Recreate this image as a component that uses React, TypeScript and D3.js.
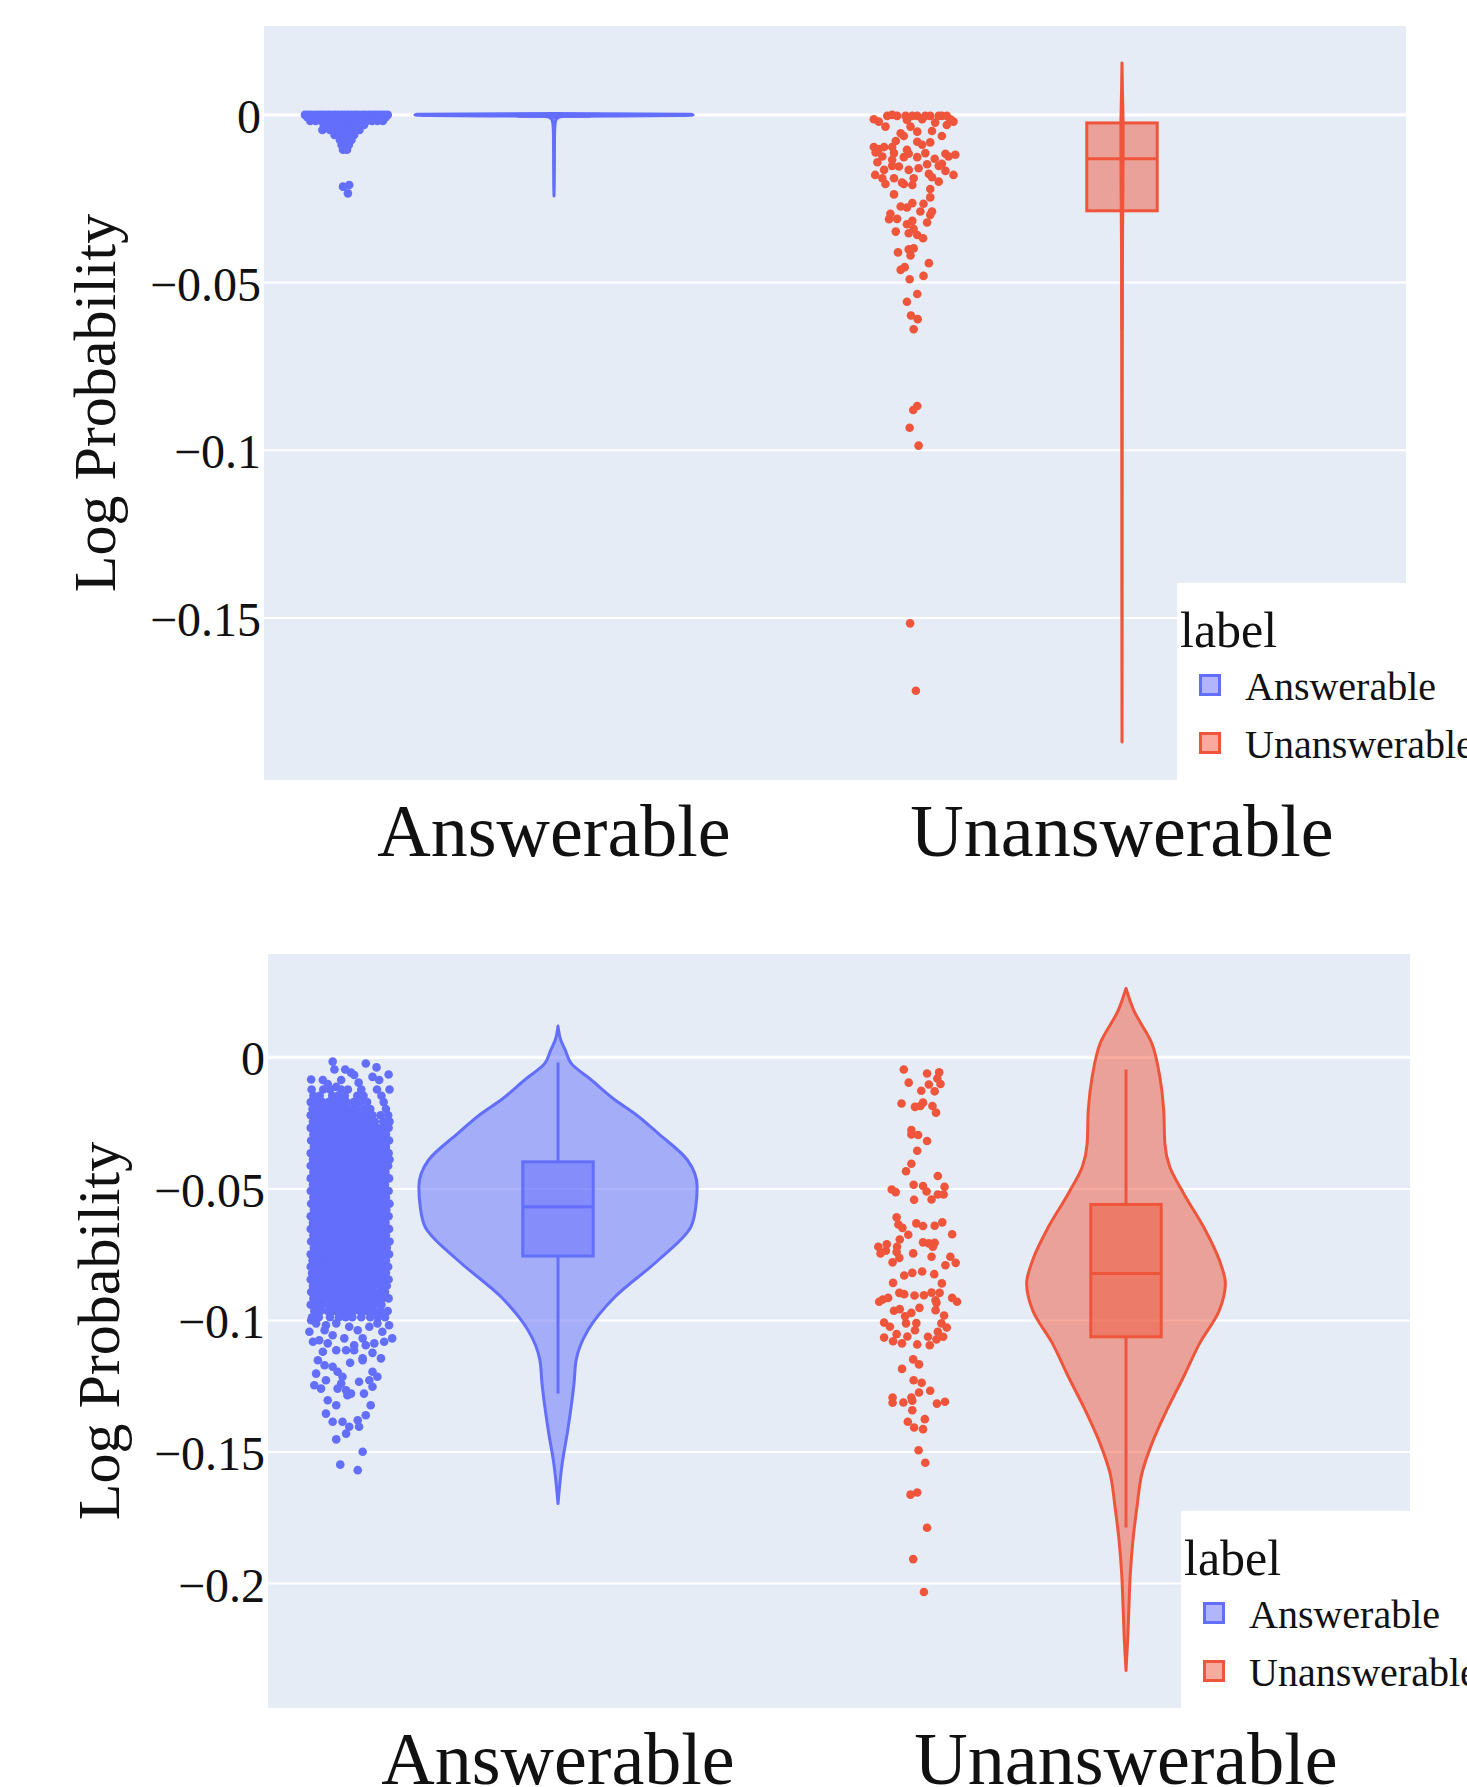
import * as React from "react";
import * as d3 from "d3";

// ---- shared ----
const categories = ["Answerable", "Unanswerable"];
const colors = ["#636efa", "#EF553B"];
const fills = ["rgba(99,110,250,0.5)", "rgba(239,85,59,0.5)"];

// ---- top panel ----
const topDomain = [-0.1983, 0.0265];
const topTicks = [0, -0.05, -0.1, -0.15];
const topTickLabels = ["0", "−0.05", "−0.1", "−0.15"];

// violin outlines: [value, relative half width]
const topAnsViolin = [
  [0.0004, 0], [0.0002, 0.98], [0, 1], [-0.0002, 0.9], [-0.0004, 0.08], [-0.0008, 0.03],
  [-0.0015, 0.014], [-0.003, 0.007], [-0.006, 0.004], [-0.012, 0.003], [-0.02, 0.002], [-0.0242, 0],
];
const topUnsViolin = [
  [0.0155, 0], [0.008, 0.003], [0.002, 0.006], [-0.003, 0.008], [-0.012, 0.008], [-0.025, 0.006],
  [-0.045, 0.003], [-0.08, 0.002], [-0.15, 0.001], [-0.187, 0],
];

// box stats: [low whisker, q1, median, q3, high whisker]
const topAnsBox = [-0.0012, -0.0004, 0, 0, 0];
const topUnsBox = [-0.0639, -0.0286, -0.0131, -0.0024, 0];

// jittered points, rows of [value, jitter positions]
const topAnsRows = [
  [0, [-0.92, -0.85, -0.78, -0.7, -0.62, -0.55, -0.48, -0.4, -0.33, -0.25, -0.18, -0.1, -0.03, 0.04, 0.12, 0.2, 0.27, 0.35, 0.42, 0.5, 0.57, 0.65, 0.72, 0.8, 0.87, 0.93]],
  [-0.0008, [-0.86, -0.74, -0.6, -0.47, -0.35, -0.22, -0.1, 0.02, 0.15, 0.28, 0.4, 0.52, 0.64, 0.76, 0.88]],
  [-0.0018, [-0.8, -0.68, -0.55, -0.42, -0.3, -0.18, -0.05, 0.08, 0.2, 0.33, 0.46, 0.58, 0.7, 0.82]],
  [-0.003, [-0.5, -0.4, -0.28, -0.16, -0.04, 0.08, 0.2, 0.32, 0.4]],
  [-0.0045, [-0.53, -0.36, -0.24, -0.12, 0, 0.12, 0.24, 0.3]],
  [-0.006, [-0.26, -0.14, -0.02, 0.1, 0.18]],
  [-0.0075, [-0.14, -0.04, 0.06, 0.12]],
  [-0.009, [-0.1, 0, 0.06]],
  [-0.0104, [-0.07, 0.02]],
  [-0.0209, [0.07]],
  [-0.0214, [-0.07]],
  [-0.0234, [0.04]],
];

// [jitter, value]
const topUnsPoints = [
  [-0.9, -0.0013], [-0.79, -0.002], [-0.64, -0.0035], [-0.6, -0.0003], [-0.49, 0], [-0.38, -0.0003],
  [-0.19, -0.0003], [-0.16, -0.0015], [-0.08, -0.0035], [-0.04, -0.0003], [0.07, -0.0003], [0.18, -0.0013],
  [0.25, -0.0003], [0.36, -0.0003], [0.47, -0.0023], [0.55, -0.0003], [0.62, -0.0003], [0.73, -0.0003],
  [0.73, -0.003], [0.81, -0.0013], [0.88, -0.002], [-0.3, -0.0055], [-0.23, -0.0063], [0.07, -0.005],
  [0.4, -0.0048], [0.62, -0.0063], [-0.41, -0.0078], [0.07, -0.008], [0.18, -0.0089], [0.36, -0.0082],
  [-0.9, -0.0096], [-0.79, -0.0102], [-0.67, -0.0096], [-0.49, -0.0096], [-0.16, -0.0104], [-0.12, -0.0116],
  [0.25, -0.0114], [0.7, -0.0116], [0.92, -0.0119], [0.77, -0.0124], [-0.86, -0.0112], [-0.71, -0.0124],
  [-0.45, -0.0114], [-0.23, -0.0126], [0.07, -0.0126], [0.46, -0.0131], [-0.82, -0.0141], [-0.49, -0.0134],
  [-0.49, -0.0152], [-0.34, -0.0154], [-0.12, -0.0164], [0.1, -0.0159], [0.29, -0.0147], [0.55, -0.0152],
  [0.62, -0.0146], [0.7, -0.0167], [-0.67, -0.0164], [-0.87, -0.0179], [-0.71, -0.0189], [-0.45, -0.0189],
  [-0.64, -0.0206], [-0.27, -0.0202], [-0.01, -0.0189], [-0.04, -0.0209], [0.33, -0.0176], [0.4, -0.0186],
  [0.55, -0.0199], [0.88, -0.0179], [-0.23, -0.0206], [0.36, -0.0221], [-0.45, -0.0237], [0.36, -0.0246],
  [-0.3, -0.0273], [-0.16, -0.0276], [-0.04, -0.0263], [0.21, -0.0265], [0.14, -0.0288], [0.4, -0.0288],
  [0.36, -0.0298], [-0.53, -0.0295], [-0.56, -0.0311], [-0.38, -0.031], [-0.16, -0.0326], [-0.04, -0.0316],
  [0.29, -0.0321], [-0.41, -0.0348], [-0.12, -0.0353], [-0.01, -0.034], [0.07, -0.0358], [0.2, -0.0368],
  [-0.36, -0.041], [-0.12, -0.0401], [-0.01, -0.0398], [-0.08, -0.0419], [0.33, -0.0442], [-0.3, -0.0462],
  [-0.21, -0.0454], [-0.1, -0.049], [0.21, -0.048], [0.07, -0.0534], [-0.16, -0.0557], [-0.07, -0.0598],
  [0.08, -0.0609], [-0.01, -0.0639], [0.07, -0.0868], [-0.02, -0.088], [-0.1, -0.0933], [0.1, -0.0986],
  [-0.09, -0.1516], [0.04, -0.1717],
];

// ---- bottom panel ----
const bottomDomain = [-0.2473, 0.0393];
const bottomTicks = [0, -0.05, -0.1, -0.15, -0.2];
const bottomTickLabels = ["0", "−0.05", "−0.1", "−0.15", "−0.2"];

const bottomAnsViolin = [
  [0.0119, 0], [0.0066, 0.02], [0.0027, 0.053], [-0.0023, 0.095], [-0.0086, 0.24], [-0.0162, 0.41],
  [-0.0213, 0.55], [-0.0289, 0.72], [-0.039, 0.93], [-0.0492, 1.0], [-0.0568, 0.99], [-0.0644, 0.955],
  [-0.0771, 0.72], [-0.091, 0.41], [-0.1037, 0.215], [-0.1151, 0.13], [-0.124, 0.115], [-0.1417, 0.07],
  [-0.1544, 0.03], [-0.1696, 0],
];
const bottomUnsViolin = [
  [0.0262, 0], [0.018, 0.055], [0.0053, 0.186], [-0.0074, 0.243], [-0.02, 0.271], [-0.0327, 0.279],
  [-0.0416, 0.314], [-0.0517, 0.414], [-0.0644, 0.557], [-0.0771, 0.671], [-0.0859, 0.714], [-0.0961, 0.671],
  [-0.1087, 0.529], [-0.1214, 0.414], [-0.1341, 0.293], [-0.1468, 0.186], [-0.1582, 0.114], [-0.1708, 0.079],
  [-0.1835, 0.05], [-0.1962, 0.031], [-0.2089, 0.021], [-0.2215, 0.012], [-0.233, 0],
];

const bottomAnsBox = [-0.1278, -0.0755, -0.0568, -0.0397, -0.0019];
const bottomUnsBox = [-0.1787, -0.1062, -0.0821, -0.0559, -0.0046];

const bottomAnsRows = [
  [-0.0122, [-0.86, -0.6, -0.45, -0.2, -0.05, 0.25, 0.6]],
  [-0.0146, [-0.82, -0.68, -0.4, -0.27, -0.12, 0.16, 0.3, 0.7]],
  [-0.017, [-0.88, -0.75, -0.62, -0.48, -0.35, -0.2, -0.08, 0.08, 0.22, 0.38, 0.75]],
  [-0.0196, [-0.84, -0.7, -0.55, -0.42, -0.28, -0.14, 0, 0.14, 0.3, 0.45, 0.8]],
  [-0.022, [-0.88, -0.76, -0.62, -0.5, -0.36, -0.22, -0.08, 0.07, 0.2, 0.35, 0.5, 0.68, 0.85]],
  [-0.0244, [-0.83, -0.69, -0.56, -0.42, -0.29, -0.15, -0.02, 0.12, 0.26, 0.4, 0.55, 0.74, 0.88]],
  [-0.0268, [-0.88, -0.75, -0.62, -0.49, -0.35, -0.22, -0.09, 0.05, 0.19, 0.33, 0.47, 0.6, 0.72, 0.86]],
  [-0.0292, [-0.82, -0.68, -0.55, -0.42, -0.28, -0.15, -0.02, 0.12, 0.25, 0.39, 0.53, 0.66, 0.8]],
  [-0.0316, [-0.87, -0.74, -0.61, -0.48, -0.35, -0.21, -0.08, 0.06, 0.19, 0.32, 0.46, 0.6, 0.74, 0.87]],
  [-0.034, [-0.81, -0.68, -0.54, -0.41, -0.28, -0.14, -0.01, 0.13, 0.26, 0.4, 0.53, 0.67, 0.8]],
  [-0.0364, [-0.88, -0.75, -0.62, -0.48, -0.35, -0.22, -0.08, 0.05, 0.18, 0.32, 0.45, 0.59, 0.72, 0.86]],
  [-0.0388, [-0.83, -0.69, -0.56, -0.43, -0.29, -0.16, -0.02, 0.11, 0.25, 0.38, 0.52, 0.65, 0.79, 0.88]],
  [-0.0412, [-0.88, -0.76, -0.62, -0.49, -0.36, -0.22, -0.09, 0.04, 0.18, 0.31, 0.45, 0.58, 0.72, 0.85]],
  [-0.0436, [-0.82, -0.69, -0.55, -0.42, -0.28, -0.15, -0.01, 0.12, 0.25, 0.39, 0.52, 0.66, 0.79]],
  [-0.046, [-0.88, -0.75, -0.61, -0.48, -0.35, -0.21, -0.08, 0.06, 0.19, 0.33, 0.46, 0.6, 0.73, 0.87]],
  [-0.0484, [-0.83, -0.7, -0.56, -0.43, -0.3, -0.16, -0.03, 0.11, 0.24, 0.38, 0.51, 0.65, 0.78]],
  [-0.0508, [-0.88, -0.76, -0.63, -0.49, -0.36, -0.22, -0.09, 0.04, 0.18, 0.31, 0.45, 0.58, 0.72, 0.86]],
  [-0.0532, [-0.82, -0.68, -0.55, -0.41, -0.28, -0.15, -0.01, 0.13, 0.26, 0.4, 0.53, 0.67, 0.8]],
  [-0.0556, [-0.87, -0.74, -0.61, -0.47, -0.34, -0.2, -0.07, 0.07, 0.2, 0.34, 0.47, 0.61, 0.74, 0.88]],
  [-0.058, [-0.81, -0.68, -0.54, -0.41, -0.27, -0.14, 0, 0.13, 0.27, 0.4, 0.54, 0.67, 0.81]],
  [-0.0604, [-0.88, -0.75, -0.62, -0.48, -0.35, -0.21, -0.08, 0.06, 0.19, 0.33, 0.46, 0.6, 0.73, 0.86]],
  [-0.0628, [-0.83, -0.7, -0.56, -0.43, -0.29, -0.16, -0.02, 0.11, 0.25, 0.38, 0.52, 0.65, 0.79]],
  [-0.0652, [-0.88, -0.76, -0.62, -0.49, -0.35, -0.22, -0.08, 0.05, 0.19, 0.32, 0.46, 0.59, 0.73, 0.87]],
  [-0.0676, [-0.82, -0.69, -0.55, -0.42, -0.28, -0.15, -0.01, 0.12, 0.26, 0.39, 0.53, 0.66, 0.8]],
  [-0.07, [-0.87, -0.74, -0.6, -0.47, -0.33, -0.2, -0.06, 0.07, 0.21, 0.34, 0.48, 0.61, 0.75, 0.88]],
  [-0.0724, [-0.81, -0.67, -0.54, -0.4, -0.27, -0.13, 0, 0.14, 0.27, 0.41, 0.54, 0.68, 0.82]],
  [-0.0748, [-0.88, -0.75, -0.61, -0.48, -0.34, -0.21, -0.07, 0.06, 0.2, 0.33, 0.47, 0.6, 0.74, 0.87]],
  [-0.0772, [-0.84, -0.7, -0.57, -0.43, -0.3, -0.16, -0.03, 0.11, 0.24, 0.38, 0.51, 0.65, 0.8]],
  [-0.0796, [-0.88, -0.76, -0.62, -0.49, -0.35, -0.22, -0.08, 0.05, 0.19, 0.32, 0.46, 0.59, 0.72, 0.85]],
  [-0.082, [-0.85, -0.72, -0.56, -0.42, -0.29, -0.15, -0.02, 0.12, 0.25, 0.39, 0.52, 0.66, 0.8]],
  [-0.0844, [-0.88, -0.78, -0.63, -0.5, -0.36, -0.23, -0.09, 0.04, 0.18, 0.31, 0.45, 0.58, 0.72, 0.86]],
  [-0.0868, [-0.83, -0.7, -0.57, -0.43, -0.3, -0.16, -0.02, 0.11, 0.25, 0.38, 0.52, 0.68, 0.82]],
  [-0.0892, [-0.87, -0.74, -0.6, -0.46, -0.33, -0.19, -0.06, 0.08, 0.21, 0.35, 0.5, 0.64, 0.78]],
  [-0.0916, [-0.82, -0.68, -0.52, -0.38, -0.25, -0.1, 0.04, 0.18, 0.3, 0.44, 0.58, 0.72, 0.86]],
  [-0.094, [-0.88, -0.75, -0.62, -0.45, -0.3, -0.15, 0, 0.14, 0.28, 0.42, 0.55, 0.7]],
  [-0.0964, [-0.8, -0.66, -0.5, -0.36, -0.2, -0.06, 0.08, 0.22, 0.36, 0.52, 0.68, 0.84]],
  [-0.0988, [-0.85, -0.7, -0.45, -0.25, -0.1, 0.05, 0.25, 0.45, 0.62, 0.78]],
];

const bottomAnsPoints = [
  [-0.39, -0.0016], [0.35, -0.0023], [0.59, -0.0038], [-0.35, -0.0046], [-0.11, -0.0046], [0.02, -0.0058],
  [0.09, -0.0067], [0.86, -0.0065], [-0.87, -0.0084], [-0.61, -0.0086], [-0.5, -0.0101], [-0.2, -0.0086],
  [0.5, -0.0074], [0.65, -0.0086], [-0.31, -0.0112], [0.19, -0.0096], [0.88, -0.0122],
  [-0.87, -0.0999], [-0.76, -0.1011], [-0.57, -0.1037], [-0.91, -0.1043], [-0.83, -0.1081], [-0.54, -0.1018],
  [-0.31, -0.1011], [-0.02, -0.1024], [0.17, -0.1037], [0.28, -0.1068], [0.43, -0.1024], [0.61, -0.1011],
  [0.72, -0.1043], [0.87, -0.1018], [0.94, -0.1068], [0.76, -0.1081], [-0.69, -0.1075], [-0.39, -0.1056],
  [-0.13, -0.1068], [0.09, -0.1094], [-0.61, -0.1119], [-0.72, -0.1151], [-0.31, -0.1113], [-0.09, -0.1113],
  [0.09, -0.1113], [0.35, -0.1094], [0.5, -0.1123], [0.69, -0.1144], [0.28, -0.1144], [0.54, -0.1087],
  [-0.5, -0.1087], [-0.57, -0.117], [-0.39, -0.1176], [0, -0.1161], [0.28, -0.1151], [-0.76, -0.1202],
  [-0.28, -0.1195], [-0.17, -0.1214], [0.5, -0.1195], [0.61, -0.1214], [-0.54, -0.1227], [-0.2, -0.124],
  [0.2, -0.1233], [0.43, -0.1227], [0.5, -0.1252], [-0.8, -0.1246], [-0.65, -0.1259], [-0.28, -0.1259],
  [-0.09, -0.1265], [-0.06, -0.1284], [0.31, -0.1278], [0.02, -0.1278], [-0.5, -0.1303], [-0.31, -0.1322],
  [0.46, -0.1322], [-0.54, -0.1354], [-0.39, -0.1385], [-0.17, -0.1385], [0.17, -0.1379], [0.35, -0.136],
  [-0.02, -0.1404], [-0.09, -0.143], [0.2, -0.1404], [-0.31, -0.1452], [0.28, -0.1499], [-0.22, -0.1548],
  [0.17, -0.1569],
];

const bottomUnsPoints = [
  [-0.32, -0.0046], [0.2, -0.0061], [0.47, -0.0057], [-0.21, -0.0096], [0.24, -0.0103], [0.43, -0.008],
  [0.5, -0.0101], [0.07, -0.0127], [0.37, -0.0129], [-0.37, -0.0175], [-0.07, -0.0188], [0.05, -0.0185],
  [0.11, -0.0172], [0.32, -0.0185], [0.4, -0.021], [-0.15, -0.0276], [-0.15, -0.0293], [0, -0.0295],
  [0.2, -0.0318], [-0.02, -0.0355], [-0.15, -0.0404], [-0.27, -0.0433], [0.44, -0.0451], [-0.59, -0.0502],
  [-0.5, -0.0512], [-0.1, -0.0484], [0.11, -0.0489], [0.19, -0.051], [0.59, -0.0492], [0.44, -0.0521],
  [0.57, -0.0521], [0.3, -0.054], [-0.09, -0.0541], [-0.48, -0.0608], [-0.44, -0.0635], [-0.35, -0.0648],
  [-0.04, -0.0631], [0.11, -0.0641], [0.37, -0.064], [0.54, -0.0627], [0.76, -0.0672], [-0.22, -0.0674],
  [-0.41, -0.0692], [-0.89, -0.072], [-0.7, -0.071], [-0.47, -0.072], [-0.84, -0.0745], [-0.72, -0.0735],
  [-0.48, -0.074], [-0.11, -0.0745], [0.11, -0.0703], [0.24, -0.0707], [0.37, -0.0705], [0.33, -0.072],
  [-0.57, -0.0779], [-0.42, -0.0762], [0.3, -0.0758], [0.61, -0.079], [0.72, -0.0758], [0.84, -0.0781],
  [-0.31, -0.0829], [-0.13, -0.0819], [0.09, -0.0814], [0.36, -0.0824], [-0.56, -0.0857], [0.53, -0.0859],
  [-0.42, -0.0895], [-0.31, -0.09], [-0.08, -0.0905], [0.13, -0.0904], [0.3, -0.0894], [0.48, -0.0895],
  [-0.87, -0.0929], [-0.79, -0.092], [-0.67, -0.0914], [-0.54, -0.0963], [-0.41, -0.0957], [-0.15, -0.0971],
  [0.03, -0.0952], [0.39, -0.0923], [0.41, -0.0933], [0.39, -0.0961], [0.76, -0.0914], [0.87, -0.0929],
  [0.58, -0.0981], [-0.29, -0.0984], [-0.27, -0.1011], [-0.04, -0.101], [-0.76, -0.1008], [-0.63, -0.1024],
  [-0.07, -0.1037], [0.52, -0.1011], [0.64, -0.1027], [-0.76, -0.1065], [-0.56, -0.1079], [-0.48, -0.1052],
  [-0.36, -0.1087], [-0.24, -0.1061], [-0.02, -0.1091], [0.22, -0.1062], [0.26, -0.1094], [0.41, -0.1072],
  [0.44, -0.1043], [0.56, -0.1062], [-0.11, -0.1148], [0.02, -0.1167], [-0.36, -0.1184], [-0.1, -0.1227],
  [0.08, -0.1237], [0.02, -0.1274], [0.27, -0.1267], [-0.57, -0.1293], [-0.57, -0.1313], [-0.33, -0.1312],
  [-0.15, -0.1293], [-0.13, -0.1305], [0.42, -0.1316], [0.6, -0.1309], [-0.13, -0.1341], [-0.23, -0.1385],
  [0.15, -0.1375], [-0.09, -0.1407], [0.11, -0.1413], [0.01, -0.1493], [0.16, -0.1541], [-0.17, -0.1662],
  [-0.02, -0.1654], [0.2, -0.1788], [-0.11, -0.1907], [0.13, -0.2032],
];

// ---- layout ----
const PAGE_W = 1467;
const PAGE_H = 1787;
const W = 1142;
const H = 754;
const VIOLIN_HALF = 0.245; // share of band width
const BOX_HALF = 0.062;
const POINT_SHIFT = -0.366;
const JITTER_HALF = 0.0788;
const FONT = "'Liberation Serif', 'Times New Roman', Times, serif";

const flattenRows = (rows) => rows.flatMap(([v, js]) => js.map((j) => [j, v]));

function Panel({ id, left, top, domain, ticks, tickLabels, violins, boxes, points }) {
  const x = d3.scaleBand().domain(categories).range([6, W]);
  const y = d3.scaleLinear().domain(domain).range([H, 0]);
  const bw = x.bandwidth();

  return (
    <g transform={`translate(${left},${top})`}>
      <defs>
        <clipPath id={`clip-${id}`}>
          <rect width={W} height={H} />
        </clipPath>
      </defs>
      <rect width={W} height={H} fill="#E5ECF6" />
      {ticks.map((t) => (
        <line key={t} x1={0} x2={W} y1={y(t)} y2={y(t)} stroke="#fff" strokeWidth={t === 0 ? 3.3 : 2} />
      ))}
      {ticks.map((t, i) => (
        <text key={t} x={-3} y={y(t) + 18} textAnchor="end" fontSize={48} fill="#111">
          {tickLabels[i]}
        </text>
      ))}

      <g clipPath={`url(#clip-${id})`}>
        {categories.map((c, i) => {
          const cx = x(c) + bw / 2;
          const half = bw * VIOLIN_HALF;
          const area = d3
            .area()
            .y((d) => y(d[0]))
            .x0((d) => cx - d[1] * half)
            .x1((d) => cx + d[1] * half)
            .curve(d3.curveMonotoneY);
          const [lo, q1, med, q3, hi] = boxes[i];
          const bh = bw * BOX_HALF;
          const px = cx + bw * POINT_SHIFT;
          const jw = bw * JITTER_HALF;
          return (
            <g key={c}>
              <path d={area(violins[i])} fill={fills[i]} stroke={colors[i]} strokeWidth={3} strokeLinejoin="round" />
              <line x1={cx} x2={cx} y1={y(q3)} y2={y(hi)} stroke={colors[i]} strokeWidth={3} />
              <line x1={cx} x2={cx} y1={y(q1)} y2={y(lo)} stroke={colors[i]} strokeWidth={3} />
              <rect
                x={cx - bh}
                width={bh * 2}
                y={y(q3)}
                height={Math.max(0.5, y(q1) - y(q3))}
                fill={fills[i]}
                stroke={colors[i]}
                strokeWidth={3}
              />
              <line x1={cx - bh} x2={cx + bh} y1={y(med)} y2={y(med)} stroke={colors[i]} strokeWidth={3} />
              {points[i].map(([j, v], k) => (
                <circle key={k} cx={px + j * jw} cy={y(v)} r={4.3} fill={colors[i]} />
              ))}
            </g>
          );
        })}
      </g>

      {categories.map((c) => (
        <text key={c} x={x(c) + bw / 2} y={H + 76} textAnchor="middle" fontSize={74} fill="#111">
          {c}
        </text>
      ))}
      <text transform={`translate(-149,${H / 2}) rotate(-90)`} textAnchor="middle" fontSize={60} fill="#111">
        Log Probability
      </text>

      {/* legend */}
      <g transform={`translate(913,${H - 197})`}>
        <rect width={400} height={197} fill="#fff" />
        <text x={3} y={64} fontSize={50} fill="#111">label</text>
        {categories.map((c, i) => (
          <g key={c} transform={`translate(0,${91 + i * 58})`}>
            <rect x={23.5} y={1.5} width={19} height={19} fill={fills[i]} stroke={colors[i]} strokeWidth={3} />
            <text x={68} y={26} fontSize={40} fill="#111">{c}</text>
          </g>
        ))}
      </g>
    </g>
  );
}

export default function App() {
  return (
    <div style={{ position: "absolute", left: 0, top: 0, background: "#fff" }}>
      <svg width={PAGE_W} height={PAGE_H} fontFamily={FONT} style={{ display: "block" }}>
        <rect width={PAGE_W} height={PAGE_H} fill="#fff" />
        <Panel
          id="top"
          left={264}
          top={26}
          domain={topDomain}
          ticks={topTicks}
          tickLabels={topTickLabels}
          violins={[topAnsViolin, topUnsViolin]}
          boxes={[topAnsBox, topUnsBox]}
          points={[flattenRows(topAnsRows), topUnsPoints]}
        />
        <Panel
          id="bottom"
          left={268}
          top={954}
          domain={bottomDomain}
          ticks={bottomTicks}
          tickLabels={bottomTickLabels}
          violins={[bottomAnsViolin, bottomUnsViolin]}
          boxes={[bottomAnsBox, bottomUnsBox]}
          points={[[...flattenRows(bottomAnsRows), ...bottomAnsPoints], bottomUnsPoints]}
        />
      </svg>
    </div>
  );
}
